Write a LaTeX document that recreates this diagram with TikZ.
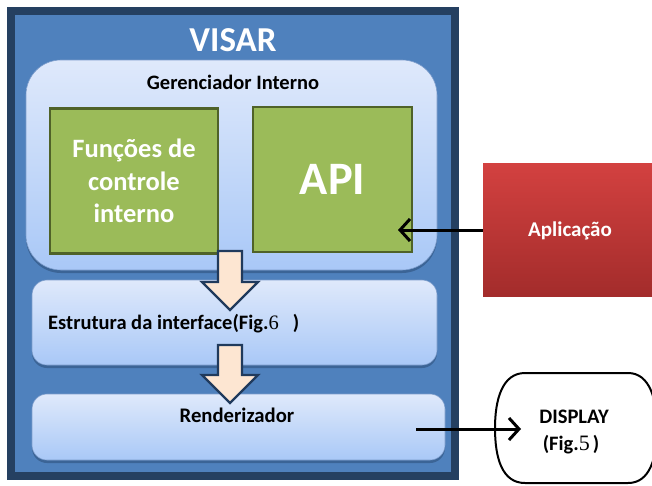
\documentclass[tikz,border=0pt]{standalone}
\usepackage{fontspec}
\setmainfont{Carlito}
\newfontfamily\serifnum{Liberation Serif}
\usetikzlibrary{arrows.meta,calc}
\definecolor{navy}{HTML}{254061}
\definecolor{visarblue}{HTML}{4F81BD}
\definecolor{paneltop}{HTML}{DFE9FB}
\definecolor{panelbot}{HTML}{A9C8F7}
\definecolor{panelline}{HTML}{7C9CCB}
\definecolor{shadowblue}{HTML}{3B6496}
\definecolor{greenfill}{HTML}{9BBB59}
\definecolor{greenline}{HTML}{4F6228}
\definecolor{redtop}{HTML}{D34140}
\definecolor{redbot}{HTML}{A32C2B}
\definecolor{peach}{HTML}{FDE6D2}
\definecolor{arrline}{HTML}{203A5C}
\tikzset{
  panel/.style={draw=panelline, line width=0.6pt, top color=paneltop, bottom color=panelbot,
    inner sep=0pt, outer sep=0pt},
  greenbox/.style={draw=greenline, line width=2.6pt, fill=greenfill, inner sep=0pt,
    text=white, font=\bfseries, align=center},
  barrow/.style={draw=arrline, line width=2.4pt, fill=peach, line join=miter},
  conn/.style={draw=black, line width=3pt, -{Straight Barb[length=10pt,width=22pt,line width=3pt]}},
  lbl/.style={inner sep=0pt, font=\bfseries}
}
\begin{document}
\begin{tikzpicture}[x=1pt,y=-1pt]
\useasboundingbox (0,0) rectangle (652,485);
% outer VISAR box
\node[draw=navy, line width=8pt, fill=visarblue, minimum width=443.5pt, minimum height=465pt,
  inner sep=0pt] (visar) at (232.75,243.5) {};
\node[lbl, text=white, font=\bfseries\fontsize{35}{38}\selectfont] (visart) at (233,40) {VISAR};
% Gerenciador panel
\fill[shadowblue, rounded corners=35pt] (26,63) rectangle (437,273);
\node[panel, rounded corners=35pt, minimum width=411pt, minimum height=210pt] (ger) at (231.5,165) {};
\node[lbl, font=\bfseries\fontsize{20.5}{22}\selectfont] (gert) at (233,82) {Gerenciador Interno};
% green boxes
\node[greenbox, minimum width=168pt, minimum height=145pt,
  font=\bfseries\fontsize{26.5}{32.5}\selectfont] (func) at (134,181) {Funções de\\controle\\interno};
\node[greenbox, minimum width=159pt, minimum height=145pt,
  font=\bfseries\fontsize{46.5}{50}\selectfont] (api) at (332.5,179.5) {API};
% Estrutura panel
\fill[shadowblue, rounded corners=15pt] (32,283) rectangle (437,368);
\node[panel, rounded corners=15pt, minimum width=405pt, minimum height=85pt] (estr) at (234.5,322.5) {};
\node[lbl, anchor=west, font=\bfseries\fontsize{20.5}{22}\selectfont] (estrt) at (48,324)
  {Estrutura da interface(Fig.{\serifnum\mdseries 6}\hspace{14pt})};
% Renderizador panel
\fill[shadowblue, rounded corners=15pt] (32,397) rectangle (445,463);
\node[panel, rounded corners=15pt, minimum width=413pt, minimum height=66pt] (rend) at (238.5,427) {};
\node[lbl, font=\bfseries\fontsize{20.7}{22}\selectfont] (rendt) at (237,415) {Renderizador};
% block arrows
\coordinate (a1) at (230,251);
\draw[barrow] ($(a1)+(-12,0)$) -- ++(24,0) -- ++(0,31) -- ++(16,0) -- ($(a1)+(0,59)$)
  -- ($(a1)+(-28,31)$) -- ++(16,0) -- cycle;
\coordinate (a2) at (230,345);
\draw[barrow] ($(a2)+(-12,0)$) -- ++(24,0) -- ++(0,30) -- ++(16,0) -- ($(a2)+(0,58)$)
  -- ($(a2)+(-28,30)$) -- ++(16,0) -- cycle;
% Aplicacao
\node[inner sep=0pt, top color=redtop, bottom color=redbot, minimum width=174pt, minimum height=133pt]
  (apl) at (570,229.5) {};
\node[lbl, text=white, font=\bfseries\fontsize{21}{23}\selectfont] (aplt) at (570,231) {Aplicação};
% Display
\coordinate (disp) at (576,428);
\draw[line width=2pt] (525,373) -- (628,373)
  .. controls (650,373) and (657,400) .. (657,428)
  .. controls (657,458) and (650,483) .. (628,483)
  -- (525,483)
  .. controls (502,483) and (495,458) .. (495,428)
  .. controls (495,400) and (502,373) .. (525,373) -- cycle;
\node[lbl, font=\bfseries\fontsize{20.6}{22}\selectfont] (dispt) at (574,417) {DISPLAY};
\node[lbl, font=\bfseries\fontsize{20.5}{22}\selectfont] (dispf) at (571,445)
  {(Fig.{\serifnum\mdseries\fontsize{22}{22}\selectfont 5}\hspace{3pt})};
% connectors
\coordinate (apiin) at (398,230);
\draw[conn] (apl.west |- apiin) -- (apiin);
\coordinate (rendout) at (416,429);
\coordinate (dispin) at (521,429);
\draw[conn] (rendout) -- (dispin);
\end{tikzpicture}
\end{document}
